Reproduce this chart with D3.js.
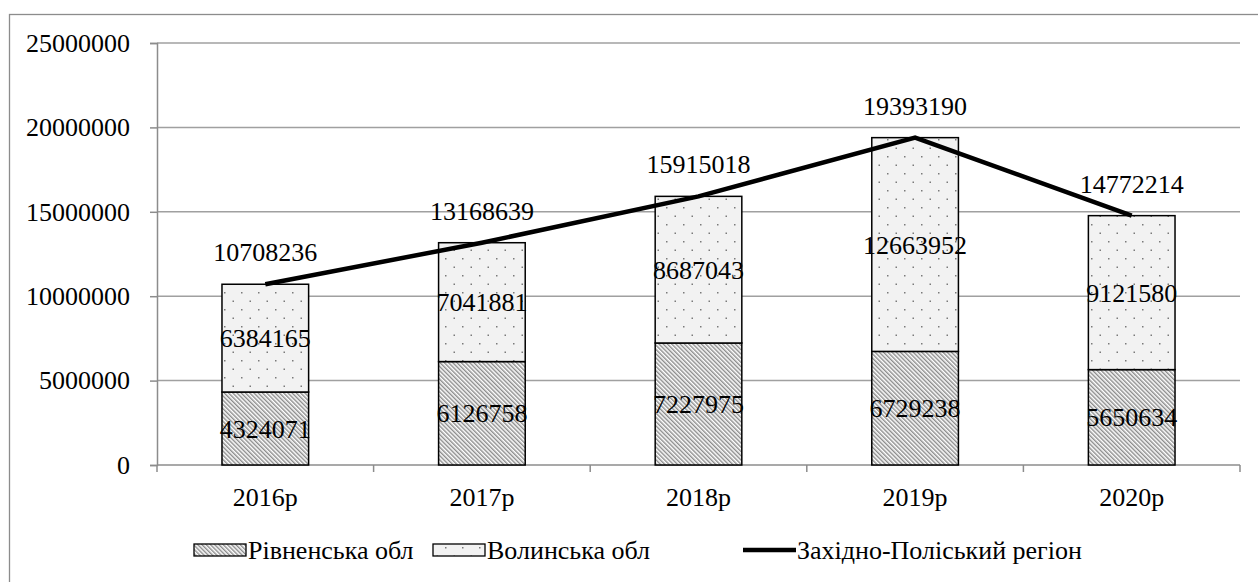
<!DOCTYPE html>
<html>
<head>
<meta charset="utf-8">
<script src="https://cdn.jsdelivr.net/npm/d3@7"></script>
<style>
  body { margin: 0; background: #fff; }
  svg { display: block; }
</style>
</head>
<body>
<script>
const years = ["2016р", "2017р", "2018р", "2019р", "2020р"];
const rivne = [4324071, 6126758, 7227975, 6729238, 5650634];
const volyn = [6384165, 7041881, 8687043, 12663952, 9121580];
const total = [10708236, 13168639, 15915018, 19393190, 14772214];
const yTicks = [0, 5000000, 10000000, 15000000, 20000000, 25000000];
const seriesNames = ["Рівненська обл", "Волинська обл", "Західно-Поліський регіон"];

const width = 1258, height = 582;
const margin = {left: 157, right: 18, top: 43, bottom: 117};
const font = "'Liberation Serif', 'Times New Roman', serif";
const fs = "26px";

const svg = d3.select("body").append("svg")
    .attr("width", width)
    .attr("height", height);

const defs = svg.append("defs");

// diagonal hatch for Рівненська
const hatch = defs.append("pattern")
    .attr("id", "hatch")
    .attr("patternUnits", "userSpaceOnUse")
    .attr("width", 3).attr("height", 3)
    .attr("patternTransform", "rotate(-45)");
hatch.append("rect").attr("width", 3).attr("height", 3).attr("fill", "#fff");
hatch.append("line")
    .attr("x1", 0.75).attr("y1", 0).attr("x2", 0.75).attr("y2", 3)
    .attr("stroke", "#808080").attr("stroke-width", 1.3);

// dotted fill for Волинська
const dots = defs.append("pattern")
    .attr("id", "dots")
    .attr("patternUnits", "userSpaceOnUse")
    .attr("width", 17).attr("height", 17);
dots.append("rect").attr("width", 17).attr("height", 17).attr("fill", "#f2f2f2");
dots.append("rect").attr("x", 3).attr("y", 3).attr("width", 1.5).attr("height", 1.5).attr("fill", "#7a7a7a");
dots.append("rect").attr("x", 11.5).attr("y", 11.5).attr("width", 1.5).attr("height", 1.5).attr("fill", "#7a7a7a");

// outer frame
svg.append("rect")
    .attr("x", 9.5).attr("y", 14.5)
    .attr("width", width + 10).attr("height", height + 10)
    .attr("fill", "none")
    .attr("stroke", "#8c8c8c")
    .attr("stroke-width", 1.3);

const x = d3.scaleBand()
    .domain(years)
    .range([margin.left, width - margin.right])
    .paddingInner(0.6)
    .paddingOuter(0.3);

const xOuter = d3.scaleBand()
    .domain(years)
    .range([margin.left, width - margin.right]);

const y = d3.scaleLinear()
    .domain([0, 25000000])
    .range([height - margin.bottom, margin.top]);

// gridlines
svg.append("g")
  .selectAll("line")
  .data(yTicks.slice(1))
  .join("line")
    .attr("x1", margin.left).attr("x2", width - margin.right)
    .attr("y1", d => y(d)).attr("y2", d => y(d))
    .attr("stroke", "#a0a0a0")
    .attr("stroke-width", 1.5);

// y axis
const yAxis = svg.append("g")
    .attr("transform", `translate(${margin.left},0)`)
    .call(d3.axisLeft(y).tickValues(yTicks).tickFormat(d => d).tickSize(7).tickPadding(20));
yAxis.selectAll("line, path").attr("stroke", "#8c8c8c").attr("stroke-width", 1.5);
yAxis.selectAll("text").style("font-family", font).style("font-size", fs).attr("fill", "#000");

// x axis with ticks at category boundaries
const xAxisG = svg.append("g")
    .attr("transform", `translate(0,${y(0)})`);
xAxisG.append("line")
    .attr("x1", margin.left).attr("x2", width - margin.right)
    .attr("stroke", "#8c8c8c").attr("stroke-width", 1.5);
const bounds = years.map(d => xOuter(d)).concat([xOuter(years[years.length - 1]) + xOuter.bandwidth()]);
xAxisG.selectAll("line.tick")
  .data(bounds)
  .join("line")
    .attr("class", "tick")
    .attr("x1", d => d).attr("x2", d => d)
    .attr("y1", 0).attr("y2", 7)
    .attr("stroke", "#8c8c8c").attr("stroke-width", 1.5);
xAxisG.selectAll("text")
  .data(years)
  .join("text")
    .attr("x", d => x(d) + x.bandwidth() / 2)
    .attr("y", 41)
    .attr("text-anchor", "middle")
    .style("font-family", font).style("font-size", fs)
    .text(d => d);

const rows = years.map((d, i) => ({year: d, rivne: rivne[i], volyn: volyn[i], total: total[i]}));

// bars
const bars = svg.append("g");
bars.selectAll("rect.rivne")
  .data(rows)
  .join("rect")
    .attr("class", "rivne")
    .attr("x", d => x(d.year))
    .attr("width", x.bandwidth())
    .attr("y", d => y(d.rivne))
    .attr("height", d => y(0) - y(d.rivne))
    .attr("fill", "url(#hatch)")
    .attr("stroke", "#000").attr("stroke-width", 1.5);
bars.selectAll("rect.volyn")
  .data(rows)
  .join("rect")
    .attr("class", "volyn")
    .attr("x", d => x(d.year))
    .attr("width", x.bandwidth())
    .attr("y", d => y(d.rivne + d.volyn))
    .attr("height", d => y(d.rivne) - y(d.rivne + d.volyn))
    .attr("fill", "url(#dots)")
    .attr("stroke", "#000").attr("stroke-width", 1.5);

// total line
const line = d3.line()
    .x(d => x(d.year) + x.bandwidth() / 2)
    .y(d => y(d.total));
svg.append("path")
    .datum(rows)
    .attr("d", line)
    .attr("fill", "none")
    .attr("stroke", "#000")
    .attr("stroke-width", 4.5);

// labels
const labels = svg.append("g")
    .style("font-family", font).style("font-size", fs)
    .attr("text-anchor", "middle");
labels.selectAll("text.r")
  .data(rows)
  .join("text")
    .attr("x", d => x(d.year) + x.bandwidth() / 2)
    .attr("y", d => (y(0) + y(d.rivne)) / 2)
    .attr("dy", "0.35em")
    .text(d => d.rivne);
labels.selectAll("text.v")
  .data(rows)
  .join("text")
    .attr("x", d => x(d.year) + x.bandwidth() / 2)
    .attr("y", d => (y(d.rivne) + y(d.rivne + d.volyn)) / 2)
    .attr("dy", "0.35em")
    .text(d => d.volyn);
labels.selectAll("text.t")
  .data(rows)
  .join("text")
    .attr("x", d => x(d.year) + x.bandwidth() / 2)
    .attr("y", d => y(d.total) - 32)
    .attr("dy", "0.35em")
    .text(d => d.total);

// legend
const legend = svg.append("g")
    .style("font-family", font).style("font-size", fs);
const legendX = [194, 433, 743];
legend.selectAll("rect")
  .data(["url(#hatch)", "url(#dots)"])
  .join("rect")
    .attr("x", (d, i) => legendX[i])
    .attr("y", 544)
    .attr("width", 52).attr("height", 12)
    .attr("fill", d => d)
    .attr("stroke", "#000").attr("stroke-width", 1.3);
legend.append("line")
    .attr("x1", legendX[2]).attr("x2", legendX[2] + 53)
    .attr("y1", 550).attr("y2", 550)
    .attr("stroke", "#000").attr("stroke-width", 4.5);
legend.selectAll("text")
  .data(seriesNames)
  .join("text")
    .attr("x", (d, i) => legendX[i] + 54)
    .attr("y", 550)
    .attr("dy", "0.35em")
    .text(d => d);
</script>
</body>
</html>
